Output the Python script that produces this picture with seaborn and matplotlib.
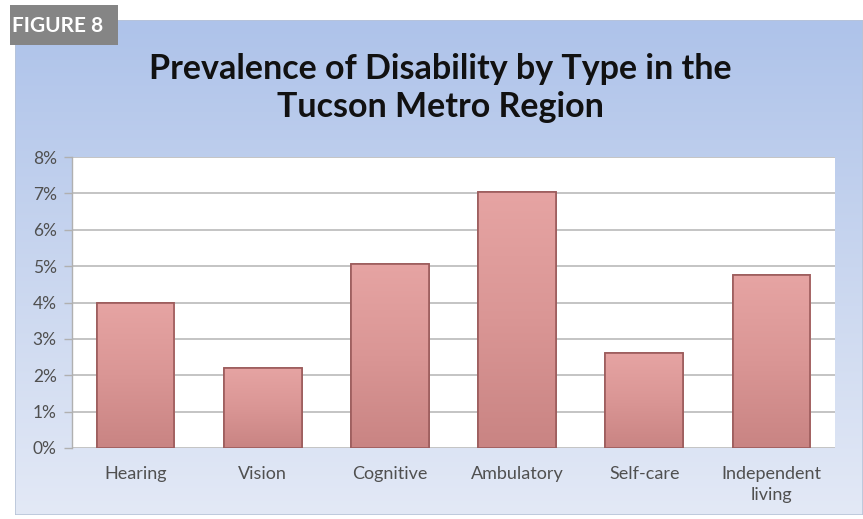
import numpy as np
import pandas as pd
import matplotlib
matplotlib.use("Agg")
import matplotlib.pyplot as plt
from matplotlib.colors import LinearSegmentedColormap
from matplotlib.patches import Rectangle
import seaborn as sns

categories = ["Hearing", "Vision", "Cognitive", "Ambulatory", "Self-care", "Independent\nliving"]
values = [4.0, 2.2, 5.05, 7.05, 2.6, 4.75]
yticks = [0, 1, 2, 3, 4, 5, 6, 7, 8]
ytick_labels = ["0%", "1%", "2%", "3%", "4%", "5%", "6%", "7%", "8%"]
title = "Prevalence of Disability by Type in the\nTucson Metro Region"
figure_label = "FIGURE 8"

sns.set_theme(style="white")
plt.rcParams["font.family"] = ["Lato", "DejaVu Sans"]

W, H = 863, 519
fig = plt.figure(figsize=(W / 100, H / 100), dpi=100)
fig.patch.set_facecolor("white")

# chart background with blue gradient
bg = fig.add_axes([15 / W, 1 - 515 / H, 848 / W, 495 / H])
bg.set_axis_off()
bg_cmap = LinearSegmentedColormap.from_list("bg", ["#aec3ea", "#c9d6ef", "#e3e9f6"])
grad = np.linspace(0, 1, 256).reshape(-1, 1)
bg.imshow(grad, aspect="auto", cmap=bg_cmap, extent=[0, 1, 0, 1], origin="upper")
bg.set_xlim(0, 1)
bg.set_ylim(0, 1)
bg.add_patch(Rectangle((0, 0), 1, 1, fill=False, edgecolor="#b8c4d8", lw=1.2,
                       transform=bg.transAxes))

# FIGURE label box
fig.patches.append(Rectangle((10 / W, 1 - 45 / H), 108 / W, 40 / H,
                             transform=fig.transFigure, facecolor="#858585",
                             edgecolor="none", zorder=5))
fig.text(58 / W, 1 - 26 / H, figure_label, color="white", fontsize=15,
         fontweight="bold", ha="center", va="center", zorder=6)

fig.text(440 / W, 1 - 88 / H, title, ha="center", va="center", fontsize=24.5,
         fontweight="bold", color="#111111", linespacing=1.2)

ax = fig.add_axes([72 / W, 1 - 448 / H, 763 / W, 291 / H])
ax.set_facecolor("white")
df = pd.DataFrame({"category": categories, "value": values})
sns.barplot(data=df, x="category", y="value", ax=ax, color="#d99190",
            width=0.61, edgecolor="#9c5c5c", linewidth=1.2, zorder=3)

# vertical gradient inside each bar
bar_cmap = LinearSegmentedColormap.from_list("bar", ["#c98483", "#da9695", "#e6a4a3"])
for p in ax.patches:
    x0, y0 = p.get_x(), p.get_y()
    w, h = p.get_width(), p.get_height()
    im = ax.imshow(np.linspace(0, 1, 128).reshape(-1, 1), cmap=bar_cmap, aspect="auto",
                   extent=[x0, x0 + w, y0, y0 + h], origin="lower", zorder=3.5)
    im.set_clip_path(p)
    ax.add_patch(Rectangle((x0, y0), w, h, fill=False, edgecolor="#9c5c5c",
                           lw=1.2, zorder=4))

ax.set_xlim(-0.5, len(categories) - 0.5)
ax.set_ylim(0, 8)
ax.set_yticks(yticks)
ax.set_yticklabels(ytick_labels)
ax.grid(axis="y", color="#c4c4c4", lw=1.4, zorder=0)
ax.set_axisbelow(True)
for s in ["top", "right", "bottom"]:
    ax.spines[s].set_visible(False)
ax.spines["left"].set_color("#b0b0b0")
ax.spines["left"].set_linewidth(1)
ax.tick_params(axis="y", labelsize=12.5, length=6, width=1,
               color="#b0b0b0", pad=5, left=True)
ax.tick_params(axis="x", labelsize=13, length=0, pad=13)
for lbl in ax.get_xticklabels() + ax.get_yticklabels():
    lbl.set_color("#505050")
for lbl in ax.get_xticklabels():
    lbl.set_linespacing(1.35)
ax.set_xlabel("")
ax.set_ylabel("")

fig.savefig("out.png", dpi=100)
